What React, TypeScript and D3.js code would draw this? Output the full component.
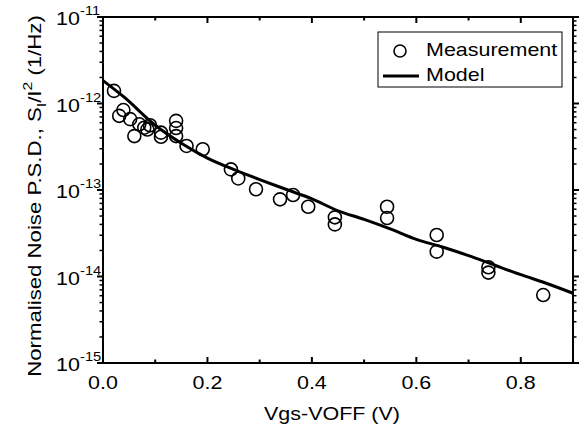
import React from "react";
import * as d3 from "d3";

const measX = [0.021, 0.031, 0.039, 0.052, 0.060, 0.0695, 0.079, 0.090, 0.085, 0.111, 0.111, 0.140, 0.140, 0.140, 0.160, 0.191, 0.245, 0.259, 0.293, 0.339, 0.364, 0.393, 0.444, 0.444, 0.544, 0.544, 0.639, 0.639, 0.738, 0.738, 0.843];
const measY = [1.40e-12, 7.2e-13, 8.4e-13, 6.6e-13, 4.2e-13, 5.75e-13, 5.25e-13, 5.6e-13, 5.0e-13, 4.13e-13, 4.6e-13, 6.3e-13, 5.2e-13, 4.2e-13, 3.23e-13, 2.96e-13, 1.73e-13, 1.36e-13, 1.02e-13, 7.8e-14, 8.75e-14, 6.4e-14, 4.83e-14, 4.0e-14, 6.4e-14, 4.74e-14, 3.02e-14, 1.94e-14, 1.28e-14, 1.11e-14, 6.1e-15];

const modelX = [0, 0.04, 0.1, 0.15, 0.2, 0.25, 0.3, 0.35, 0.4, 0.45, 0.5, 0.55, 0.6, 0.65, 0.7, 0.75, 0.8, 0.85, 0.9];
const modelY = [1.84e-12, 1.19e-12, 5.6e-13, 3.47e-13, 2.34e-13, 1.73e-13, 1.32e-13, 1.02e-13, 7.9e-14, 5.75e-14, 4.57e-14, 3.55e-14, 2.69e-14, 2.19e-14, 1.74e-14, 1.35e-14, 1.05e-14, 8.3e-15, 6.4e-15];

const xTicks = [0, 0.2, 0.4, 0.6, 0.8];
const xMinor = [0.1, 0.3, 0.5, 0.7, 0.9];
const yExps = [-15, -14, -13, -12, -11];

const W = 584, H = 435;
const L = 103, R = 573, T = 17, B = 363;
const FONT = "Liberation Sans, Arial, sans-serif";
const SX = 1.13;

function Txt({ x, y, anchor = "start", size = 19, sx = SX, children }: any) {
  return (
    <g transform={`translate(${x},${y}) scale(${sx},1)`}>
      <text x={0} y={0} textAnchor={anchor} fontSize={size}>{children}</text>
    </g>
  );
}

export default function App() {
  const x = d3.scaleLinear().domain([0, 0.9]).range([L, R]);
  const y = d3.scaleLog().domain([1e-15, 1e-11]).range([B, T]);

  const yMinor: number[] = [];
  for (const e of yExps.slice(0, 4)) {
    for (let m = 2; m <= 9; m++) yMinor.push(m * Math.pow(10, e));
  }

  const line = d3.line<number>()
    .x((_, i) => x(modelX[i]))
    .y((d) => y(d))
    .curve(d3.curveMonotoneX);

  return (
    <svg width={W} height={H} style={{ position: "absolute", left: 0, top: 0, background: "#fff" }} fontFamily={FONT}>
      <rect x={0} y={0} width={W} height={H} fill="#fff" />
      {measY.map((v, i) => (
        <circle key={i} cx={x(measX[i])} cy={y(v)} r={6.5} fill="none" stroke="#000" strokeWidth={1.6} />
      ))}
      <path d={line(modelY) || ""} fill="none" stroke="#000" strokeWidth={3} />

      <rect x={L} y={T} width={R - L} height={B - T} fill="none" stroke="#000" strokeWidth={2} />

      {xTicks.map((t) => (
        <g key={"xt" + t}>
          <line x1={x(t)} x2={x(t)} y1={B} y2={B - 6} stroke="#000" strokeWidth={2} />
          <line x1={x(t)} x2={x(t)} y1={T} y2={T + 6} stroke="#000" strokeWidth={2} />
          <Txt x={x(t)} y={389} anchor="middle">{t.toFixed(1)}</Txt>
        </g>
      ))}
      {xMinor.map((t) => (
        <g key={"xm" + t}>
          <line x1={x(t)} x2={x(t)} y1={B} y2={B - 3.5} stroke="#000" strokeWidth={2} />
          <line x1={x(t)} x2={x(t)} y1={T} y2={T + 3.5} stroke="#000" strokeWidth={2} />
        </g>
      ))}

      {yExps.map((e) => {
        const v = Math.pow(10, e);
        return (
          <g key={"yt" + e}>
            <line x1={L} x2={L - 6} y1={y(v)} y2={y(v)} stroke="#000" strokeWidth={2} />
            <line x1={R} x2={R + 6} y1={y(v)} y2={y(v)} stroke="#000" strokeWidth={2} />
            <Txt x={80} y={y(v) + 8} anchor="end">10</Txt>
            <Txt x={80} y={y(v) - 2} size={13}>{String(e)}</Txt>
          </g>
        );
      })}
      {yMinor.map((v, i) => (
        <g key={"ym" + i}>
          <line x1={L} x2={L - 3.5} y1={y(v)} y2={y(v)} stroke="#000" strokeWidth={1.5} />
          <line x1={R} x2={R + 3.5} y1={y(v)} y2={y(v)} stroke="#000" strokeWidth={1.5} />
        </g>
      ))}

      <Txt x={332} y={420} anchor="middle">Vgs-VOFF (V)</Txt>
      <g transform="translate(41,196) rotate(-90) scale(1.2,1)">
        <text x={0} y={0} textAnchor="middle" fontSize={18.5}>
          Normalised Noise P.S.D., S<tspan fontSize={13} dy={5}>I</tspan>
          <tspan dy={-5}>/I</tspan>
          <tspan fontSize={13} dy={-9}>2</tspan>
          <tspan dy={9}> (1/Hz)</tspan>
        </text>
      </g>

      <rect x={378} y={32} width={184} height={55} fill="#fff" stroke="#000" strokeWidth={1} />
      <circle cx={400} cy={51} r={6} fill="none" stroke="#000" strokeWidth={1.6} />
      <Txt x={426} y={56}>Measurement</Txt>
      <line x1={383} x2={419} y1={76} y2={76} stroke="#000" strokeWidth={3} />
      <Txt x={426} y={81}>Model</Txt>
    </svg>
  );
}
